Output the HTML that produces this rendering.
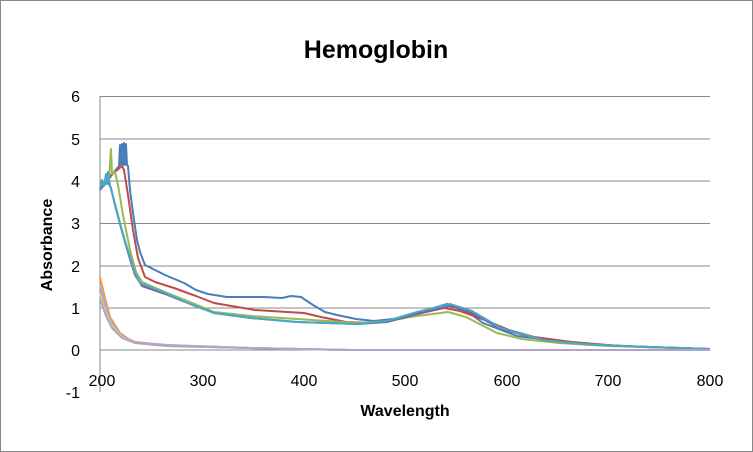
<!DOCTYPE html>
<html><head><meta charset="utf-8"><style>body{margin:0;background:#fff}svg{display:block}text{font-family:"Liberation Sans",sans-serif}</style></head><body>
<svg width="753" height="452" viewBox="0 0 753 452">
<rect x="0.5" y="0.5" width="752" height="451" fill="#fff" stroke="#888"/>
<text x="376" y="58" text-anchor="middle" font-size="25" font-weight="bold">Hemoglobin</text>
<g stroke="#888" stroke-width="1">
<line x1="100" y1="96.5" x2="710" y2="96.5"/><line x1="100" y1="139" x2="710" y2="139"/><line x1="100" y1="181" x2="710" y2="181"/><line x1="100" y1="223.5" x2="710" y2="223.5"/><line x1="100" y1="266" x2="710" y2="266"/><line x1="100" y1="308" x2="710" y2="308"/><line x1="100" y1="350" x2="710" y2="350"/><line x1="100" y1="96" x2="100" y2="392"/>
</g>
<g font-size="16" text-anchor="end"><text x="80" y="102">6</text><text x="80" y="145">5</text><text x="80" y="187">4</text><text x="80" y="229">3</text><text x="80" y="272">2</text><text x="80" y="314">1</text><text x="80" y="356">0</text><text x="80" y="398">-1</text></g>
<g font-size="16" text-anchor="middle"><text x="102" y="386">200</text><text x="203" y="386">300</text><text x="304" y="386">400</text><text x="405" y="386">500</text><text x="507" y="386">600</text><text x="608" y="386">700</text><text x="710" y="386">800</text></g>
<text x="405" y="416" text-anchor="middle" font-size="16" font-weight="bold">Wavelength</text>
<text transform="translate(52,245) rotate(-90)" text-anchor="middle" font-size="16" font-weight="bold">Absorbance</text>
<g fill="none" stroke-width="2" stroke-linejoin="round">
<polyline stroke="#4a7ebb" points="100,189 108,180 114,172 119,166 120,145 121,165 122,144 123,165 124,143 125,165 126,144 127,165 128,166 130,190 133,213 137,240 140,252 145,265 155,270 165,275 184,283 196,290 208,294 227,297 264,297 282,298 291,296 301,297 313,305 325,312 337,315 356,319 374,321 393,319 411,315 430,309 447,304 465,310 483,323 517,336 550,340 600,345 650,347 710,349"/>
<polyline stroke="#be4b48" points="100,189 110,176 122,166 124,170 128,195 133,230 138,258 145,277 155,282 174,288 196,296 214,303 255,310 304,313 321,317 346,322 371,323 393,320 417,314 444,308 460,311 485,320 509,330 534,337 572,342 620,346 680,348 710,349"/>
<polyline stroke="#98b954" points="100,189 105,184 109,178 111,149 112,174 115,172 118,185 123,215 130,250 136,272 142,282 165,292 190,302 214,312 251,316 297,319 358,323 387,321 417,316 448,312 466,317 497,333 522,339 559,343 608,346 680,348 710,349"/>
<polyline stroke="#7d60a0" points="100,190 104,185 108,182 111,188 115,205 120,224 125,242 130,259 135,275 142,286 165,294 190,304 214,313 251,318 297,322 358,324 387,322 417,314 450,306 472,313 501,329 543,340 583,344 645,347 710,349"/>
<polyline stroke="#46aac5" points="100,188 102,180 104,186 106,174 107,184 108,172 110,185 115,204 120,223 125,241 130,257 135,273 140,283 165,293 190,304 214,313 251,318 297,322 358,324 387,321 417,312 450,304 472,311 501,328 543,340 583,344 645,347 710,349"/>
<polyline stroke="#f79646" points="100,277 105,298 110,317 120,333 133,342 167,345 250,348 350,350 710,350"/>
<polyline stroke="#9bb7d4" points="100,284 105,303 110,319 120,334 133,342 167,345 250,348 350,350 710,350"/>
<polyline stroke="#d99694" points="100,290 106,310 112,323 122,336 135,342 167,346 250,348 350,350 710,350"/>
<polyline stroke="#c3d69b" points="100,294 106,313 112,326 122,337 135,343 167,346 250,348 350,350 710,350"/>
<polyline stroke="#b3a2c7" points="100,299 106,316 112,328 122,338 135,343 167,346 250,348 350,350 710,350"/>
</g>
</svg>
</body></html>
